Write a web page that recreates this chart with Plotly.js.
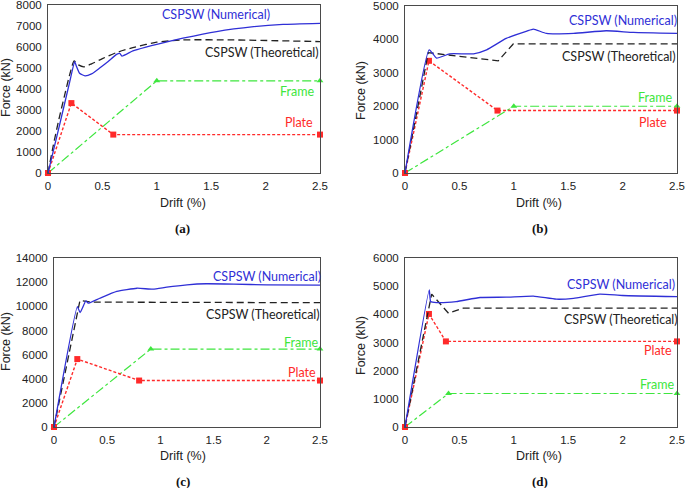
<!DOCTYPE html>
<html><head><meta charset="utf-8">
<script src="https://cdn.plot.ly/plotly-3.0.1.min.js"></script>
<style>html,body{margin:0;padding:0;background:#fff}#chart{width:685px;height:488px}</style>
</head><body><div id="chart"></div>
<script>
// Panel (a)
const aNumX = [0, 0.1, 0.2, 0.245, 0.26, 0.29, 0.34, 0.4, 0.475, 0.55, 0.63, 0.66, 0.68, 0.78, 0.9, 1.0, 1.24, 1.55, 1.89, 2.16, 2.5];
const aNumY = [0, 2150, 4350, 5310, 5100, 4750, 4630, 4720, 5000, 5300, 5650, 5700, 5570, 5820, 6000, 6130, 6420, 6740, 6970, 7080, 7130];
const aTheX = [0, 0.05, 0.1, 0.2, 0.24, 0.28, 0.33, 0.4, 0.5, 0.63, 0.8, 1.0, 1.24, 1.7, 2.5];
const aTheY = [0, 1350, 2550, 4700, 5340, 5150, 5060, 5200, 5450, 5740, 6000, 6230, 6340, 6340, 6260];
const aPlateX = [0, 0.215, 0.6, 2.5];
const aPlateY = [0, 3330, 1830, 1830];
const aFrameX = [0, 1.0, 2.5];
const aFrameY = [0, 4390, 4390];
// Panel (b)
const bNumX = [0, 0.223, 0.29, 0.41, 0.63, 0.75, 0.93, 1.12, 1.18, 1.3, 1.55, 1.85, 2.1, 2.5];
const bNumY = [0, 3690, 3440, 3570, 3570, 3690, 4030, 4250, 4310, 4180, 4180, 4260, 4210, 4180];
const bTheX = [0, 0.214, 0.857, 0.995, 2.5];
const bTheY = [0, 3605, 3360, 3865, 3865];
const bPlateX = [0, 0.22, 0.85, 2.5];
const bPlateY = [0, 3360, 1870, 1870];
const bFrameX = [0, 1.0, 2.5];
const bFrameY = [0, 2000, 2000];
// Panel (c)
const cNumX = [0, 0.22, 0.245, 0.3, 0.32, 0.43, 0.59, 0.78, 0.93, 1.06, 1.25, 1.43, 1.69, 2.0, 2.5];
const cNumY = [0, 9980, 9480, 10450, 10260, 10670, 11230, 11500, 11420, 11590, 11780, 11870, 11840, 11780, 11750];
const cTheX = [0, 0.244, 0.35, 2.5];
const cTheY = [0, 10480, 10350, 10300];
const cPlateX = [0, 0.219, 0.8, 2.5];
const cPlateY = [0, 5630, 3850, 3850];
const cFrameX = [0, 0.91, 2.5];
const cFrameY = [0, 6460, 6460];
// Panel (d)
const dNumX = [0, 0.223, 0.236, 0.29, 0.47, 0.69, 0.93, 1.18, 1.39, 1.55, 1.79, 2.0, 2.5];
const dNumY = [0, 4870, 4455, 4420, 4455, 4600, 4610, 4650, 4540, 4570, 4720, 4670, 4630];
const dTheX = [0, 0.245, 0.4, 0.535, 2.5];
const dTheY = [0, 4720, 4040, 4220, 4220];
const dPlateX = [0, 0.22, 0.376, 2.5];
const dPlateY = [0, 4015, 3040, 3040];
const dFrameX = [0, 0.4, 2.5];
const dFrameY = [0, 1190, 1190];

const xTickVals = [0, 0.5, 1, 1.5, 2, 2.5];
const xTickText = ["0", "0.5", "1", "1.5", "2", "2.5"];
const panelNames = ["(a)", "(b)", "(c)", "(d)"];
const yMax = [8000, 5000, 14000, 6000];
const yStep = [1000, 1000, 2000, 1000];

const W = 685, H = 488;
const px = v => v / W, py = v => 1 - v / H;

const BLUE = "#2f2fd6", RED = "#ff2a2a", GREEN = "#3ee63e";

const panels = [
  {num:[aNumX,aNumY], the:[aTheX,aTheY], plate:[aPlateX,aPlateY], frame:[aFrameX,aFrameY], theSpline:true},
  {num:[bNumX,bNumY], the:[bTheX,bTheY], plate:[bPlateX,bPlateY], frame:[bFrameX,bFrameY], theSpline:false},
  {num:[cNumX,cNumY], the:[cTheX,cTheY], plate:[cPlateX,cPlateY], frame:[cFrameX,cFrameY], theSpline:false},
  {num:[dNumX,dNumY], the:[dTheX,dTheY], plate:[dPlateX,dPlateY], frame:[dFrameX,dFrameY], theSpline:false}
];

// pixel boxes [left, right, top, bottom]
const boxes = [[48,320,5,173],[405,677,6,173],[54,320,258,427],[405,677,258,427]];

const data = [];
const layout = {
  width: W, height: H, margin:{l:0,r:0,t:0,b:0},
  paper_bgcolor:"#fff", plot_bgcolor:"#fff", showlegend:false,
  font:{family:"Liberation Sans, Arial, sans-serif", size:11, color:"#222"},
  annotations:[]
};

panels.forEach((p,i)=>{
  const n = i===0 ? "" : String(i+1);
  const xa = "x"+n, ya = "y"+n;
  const common = {xaxis:xa, yaxis:ya, cliponaxis:false, hoverinfo:"skip"};
  data.push(Object.assign({x:p.frame[0], y:p.frame[1], mode:"lines+markers",
    line:{color:GREEN, width:1.2, dash:"dashdot"}, marker:{symbol:"triangle-up", size:6, color:GREEN}}, common));
  data.push(Object.assign({x:p.plate[0], y:p.plate[1], mode:"lines+markers",
    line:{color:RED, width:1.4, dash:"3px,2px"}, marker:{symbol:"square", size:6, color:RED}}, common));
  data.push(Object.assign({x:p.the[0], y:p.the[1], mode:"lines",
    line:{color:"#222", width:1.3, dash:"7px,4px", shape:p.theSpline?"spline":"linear", smoothing:0.5}}, common));
  data.push(Object.assign({x:p.num[0], y:p.num[1], mode:"lines",
    line:{color:BLUE, width:1.3, shape:"spline", smoothing:0.45}}, common));

  const b = boxes[i];
  const yvals = [], ytext = [];
  for (let v=0; v<=yMax[i]; v+=yStep[i]) { yvals.push(v); ytext.push(String(v)); }
  layout["xaxis"+n] = {domain:[px(b[0]), px(b[1])], anchor:ya, range:[0,2.5],
    tickvals:xTickVals, ticktext:xTickText, showgrid:false, zeroline:false,
    showline:true, mirror:true, linecolor:"#4a4a4a", linewidth:1, ticks:"",
    tickfont:{size:11.5, color:"#222"}, ticklabelstandoff:2, ticklabeloverflow:"allow"};
  layout["yaxis"+n] = {domain:[py(b[3]), py(b[2])], anchor:xa, range:[0,yMax[i]*1.0004],
    tickvals:yvals, ticktext:ytext, showgrid:false, zeroline:false,
    showline:true, mirror:true, linecolor:"#4a4a4a", linewidth:1, ticks:"",
    tickfont:{size:11.5, color:"#222"}, ticklabelstandoff:3, ticklabeloverflow:"allow"};
});

const ann = (x,y,text,opts) => layout.annotations.push(Object.assign({
  xref:"paper", yref:"paper", x:px(x), y:py(y), text:text, showarrow:false,
  xanchor:"center", yanchor:"middle"}, opts||{}));

const lbl = {family:"Lato, Open Sans, sans-serif", size:12.5};
// Series labels
ann(216,15,"CSPSW (Numerical)",{font:Object.assign({},lbl,{color:BLUE})});
ann(262,52,"CSPSW (Theoretical)",{font:Object.assign({},lbl,{color:"#222"})});
ann(297,91,"Frame",{font:Object.assign({},lbl,{color:GREEN})});
ann(299,122,"Plate",{font:Object.assign({},lbl,{color:RED})});

ann(623,20,"CSPSW (Numerical)",{font:Object.assign({},lbl,{color:BLUE})});
ann(619,57,"CSPSW (Theoretical)",{font:Object.assign({},lbl,{color:"#222"})});
ann(655,98,"Frame",{font:Object.assign({},lbl,{color:GREEN})});
ann(653,122,"Plate",{font:Object.assign({},lbl,{color:RED})});

ann(267,276,"CSPSW (Numerical)",{font:Object.assign({},lbl,{color:BLUE})});
ann(263,314,"CSPSW (Theoretical)",{font:Object.assign({},lbl,{color:"#222"})});
ann(301,342,"Frame",{font:Object.assign({},lbl,{color:GREEN})});
ann(302,372,"Plate",{font:Object.assign({},lbl,{color:RED})});

ann(621,284,"CSPSW (Numerical)",{font:Object.assign({},lbl,{color:BLUE})});
ann(621,319,"CSPSW (Theoretical)",{font:Object.assign({},lbl,{color:"#222"})});
ann(658,350,"Plate",{font:Object.assign({},lbl,{color:RED})});
ann(657,384,"Frame",{font:Object.assign({},lbl,{color:GREEN})});

// Axis titles
const axf = {family:"Liberation Sans, Arial, sans-serif", size:12.5, color:"#222"};
[[183,203],[539,203],[183,456],[539,456]].forEach(c=>ann(c[0],c[1],"Drift (%)",{font:axf}));
[[6,88],[361,90],[6,342],[361,345]].forEach(c=>ann(c[0],c[1],"Force (kN)",{font:axf, textangle:-90}));

// Panel captions
const capf = {family:"Liberation Serif, Times New Roman, serif", size:13, color:"#111"};
[[183,229],[540,229],[183,481],[540,481]].forEach((c,i)=>ann(c[0],c[1],"<b>"+panelNames[i]+"</b>",{font:capf}));

Plotly.newPlot("chart", data, layout, {staticPlot:true, displayModeBar:false});
</script></body></html>
